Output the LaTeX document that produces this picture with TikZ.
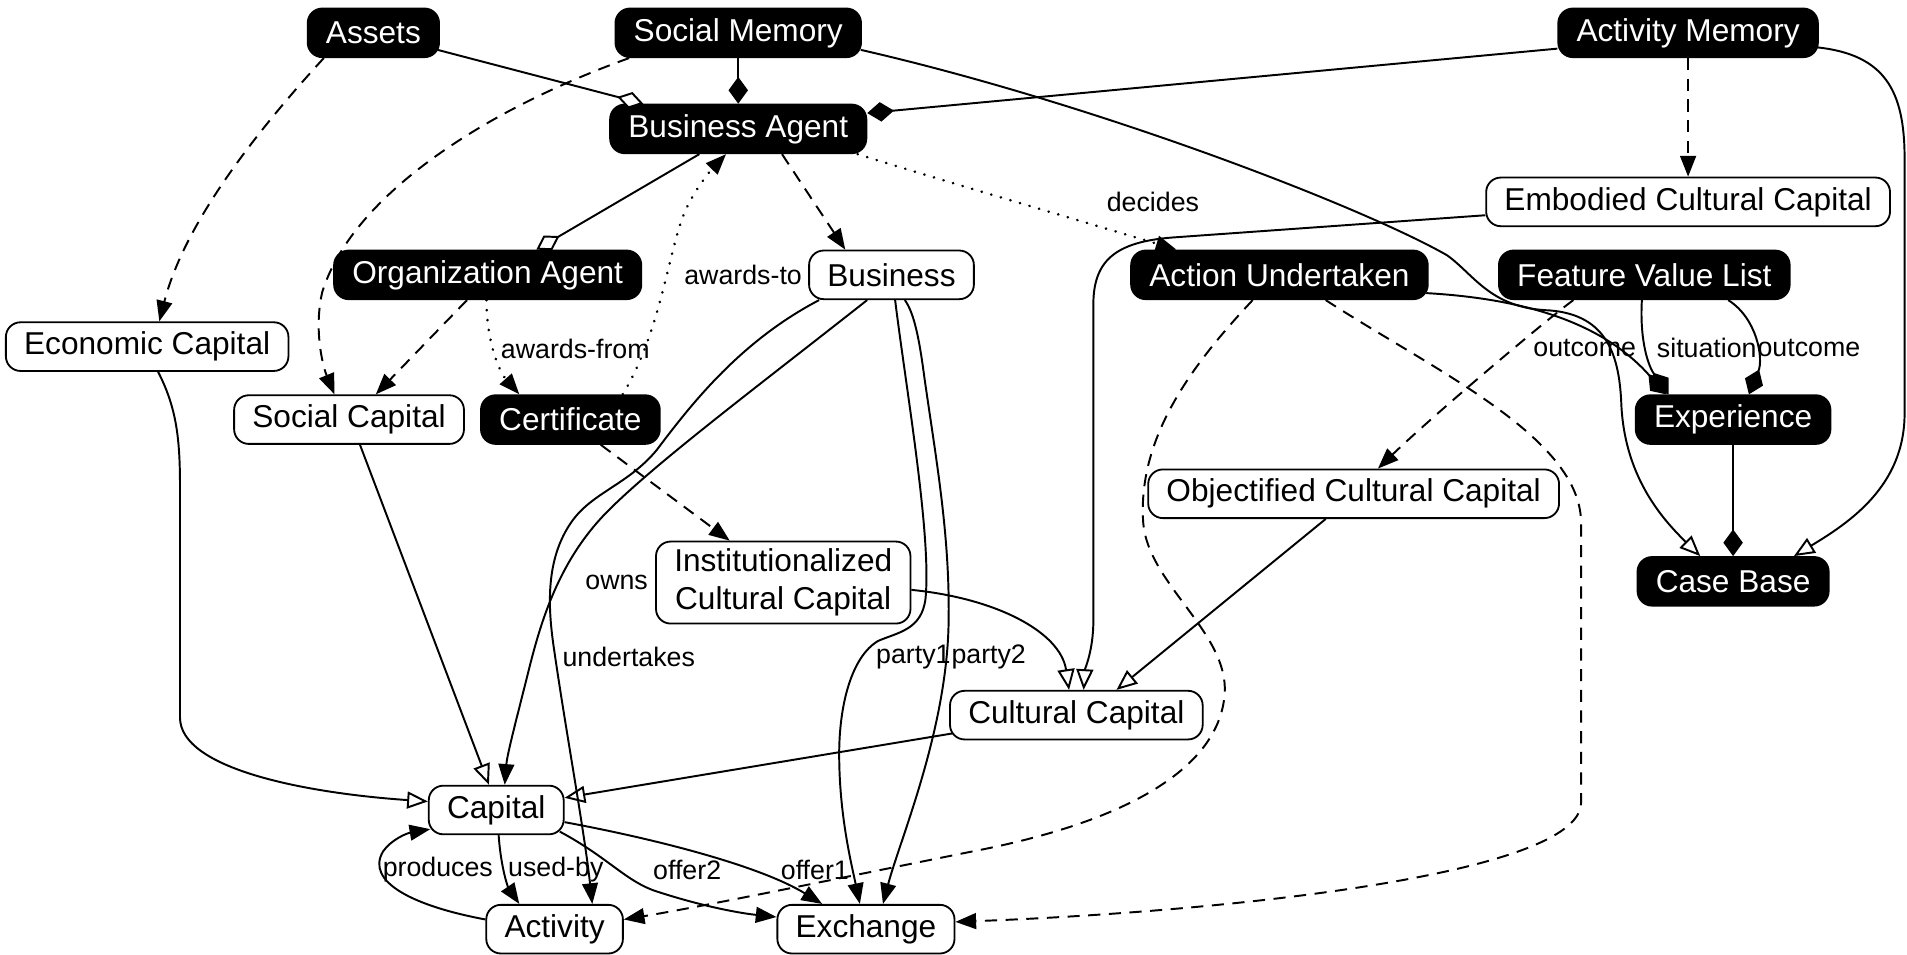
\documentclass[tikz,border=0pt]{standalone}
\usepackage{fontspec}
\setmainfont{Liberation Sans}
\usetikzlibrary{arrows.meta,calc}
\begin{document}
\begin{tikzpicture}[x=0.5pt,y=-0.5pt,
  box/.style={rounded corners=6pt, minimum height=20pt, inner xsep=7.5pt, inner ysep=3pt,
    font=\fontsize{13}{15.6}\selectfont, line width=0.75pt, align=center},
  bnode/.style={box, fill=black, draw=black, text=white},
  wnode/.style={box, fill=white, draw=black, text=black},
  conn/.style={line width=0.8pt, draw=black},
  dashline/.style={dash pattern=on 5pt off 3.5pt},
  dotline/.style={line cap=round, dash pattern=on 0.1pt off 4pt, line width=1.1pt},
  elabel/.style={font=\fontsize{11}{13}\selectfont, inner sep=0pt},
  arr/.style={-{Triangle[length=8.5pt,width=6.5pt]}},
  gen/.style={-{Triangle[open,fill=white,length=8.5pt,width=7pt]}},
  comp/.style={-{Diamond[length=11pt,width=8pt]}},
  aggr/.style={-{Diamond[open,fill=white,length=11pt,width=7pt]}},
]
\path[use as bounding box, fill=white] (0,0) rectangle (1568,785);

% nodes
\node[bnode] (assets) at (307,27) {Assets};
\node[bnode] (socmem) at (607,27) {Social Memory};
\node[bnode] (actmem) at (1388,27) {Activity Memory};
\node[bnode] (bagent) at (607,106) {Business Agent};
\node[wnode] (ecc) at (1388,166) {Embodied Cultural Capital};
\node[bnode] (orgagent) at (401,226) {Organization Agent};
\node[wnode] (business) at (733,226) {Business};
\node[bnode] (action) at (1052,226) {Action Undertaken};
\node[bnode] (fvl) at (1352,226) {Feature Value List};
\node[wnode] (econ) at (121,285) {Economic Capital};
\node[wnode] (soccap) at (287,345) {Social Capital};
\node[bnode] (cert) at (469,345) {Certificate};
\node[bnode] (exper) at (1425,345) {Experience};
\node[wnode] (occ) at (1113,406) {Objectified Cultural Capital};
\node[wnode] (icc) at (644,479) {Institutionalized\\Cultural Capital};
\node[bnode] (casebase) at (1425,478) {Case Base};
\node[wnode] (cultcap) at (885,588) {Cultural Capital};
\node[wnode] (capital) at (408,666) {Capital};
\node[wnode] (activity) at (456,764) {Activity};
\node[wnode] (exchange) at (712,764) {Exchange};

% edge labels
\node[elabel] (ldecides) at (948,166) {decides};
\node[elabel] (lawto) at (611,226) {awards-to};
\node[elabel] (lawfrom) at (473,287) {awards-from};
\node[elabel] (lowns) at (507,479) {owns};
\node[elabel] (lundert) at (517,540) {undertakes};
\node[elabel, anchor=west] (lparty1) at (720,540) {party1};
\node[elabel, anchor=west] (lparty2) at (lparty1.east) {party2};
\node[elabel] (loutc1) at (1303,286) {outcome};
\node[elabel, anchor=west] (lsitu) at (1362,286) {situation};
\node[elabel, anchor=west] (loutc2) at (lsitu.east) {outcome};
\node[elabel] (lprod) at (360,715) {produces};
\node[elabel] (lusedby) at (457,715) {used-by};
\node[elabel] (loffer2) at (565,715) {offer2};
\node[elabel] (loffer1) at (670,715) {offer1};

% edges
\draw[conn,aggr] ($(assets.east)+(-2,14)$) -- ($(bagent.north west)+(28,0)$);
\draw[conn,comp] (socmem.south) -- (bagent.north);
\draw[conn,comp] ($(actmem.west)+(0,13)$) -- ($(bagent.east)+(0,-13)$);
\draw[conn,gen] ($(socmem.east)+(-1,14)$) .. controls (900,85) and (1120,170) .. (1190,210)
  .. controls (1212,226) and (1225,252) .. (1270,255)
  .. controls (1320,257) and (1331,290) .. (1333,330)
  .. controls (1335,390) and (1365,425) .. ($(casebase.north)+(-27,0)$);
\draw[conn,gen] ($(actmem.east)+(-1,12)$) .. controls (1550,45) and (1566,75) .. (1566,130)
  -- (1566,340) .. controls (1566,400) and (1520,430) .. ($(casebase.north)+(50,0)$);
\draw[conn,dashline,arr] (actmem.south) -- (ecc.north);
\draw[conn,gen] ($(ecc.west)+(0,11)$) -- (968,195) .. controls (920,198) and (899,212) .. (899,250)
  -- (899,510) .. controls (899,535) and (892,550) .. ($(cultcap.north)+(6,0)$);
\draw[conn,gen] ($(icc.east)+(0,6)$) .. controls (820,492) and (872,520) .. ($(cultcap.north)+(-6,0)$);
\draw[conn,gen] ($(occ.south)+(-23,0)$) -- ($(cultcap.north)+(33,0)$);
\draw[conn,gen] ($(cultcap.west)+(3,15)$) -- ($(capital.east)+(0,-10)$);
\draw[conn,gen] ($(soccap.south)+(9,0)$) -- ($(capital.north)+(-6,0)$);
\draw[conn,gen] ($(econ.south)+(9,0)$) .. controls (145,335) and (148,360) .. (148,400)
  -- (148,590) .. controls (148,632) and (250,652) .. ($(capital.west)+(0,-7)$);
% owns
\draw[conn,arr] ($(business.south)+(-20,0)$) .. controls (620,320) and (540,380) .. (500,420)
  .. controls (460,460) and (445,510) .. (435,550)
  .. controls (425,590) and (417,620) .. ($(capital.north)+(7,0)$);
% undertakes
\draw[conn,arr] ($(business.south west)+(9,0)$) .. controls (610,280) and (570,330) .. (540,370)
  .. controls (515,400) and (485,405) .. (468,432)
  .. controls (450,460) and (450,495) .. (455,530)
  .. controls (465,600) and (480,680) .. ($(activity.north)+(31,0)$);
% party1
\draw[conn,arr] ($(business.south)+(3,0)$) .. controls (745,320) and (766,440) .. (761,492)
  .. controls (758,518) and (738,520) .. (722,527)
  .. controls (700,540) and (690,580) .. (690,620)
  .. controls (690,670) and (700,710) .. ($(exchange.north)+(-5,0)$);
% party2
\draw[conn,arr] ($(business.south)+(11,0)$) .. controls (752,258) and (756,280) .. (760,310)
  .. controls (770,380) and (781,440) .. (780,510)
  .. controls (779,600) and (740,690) .. ($(exchange.north)+(14,0)$);
% used-by
\draw[conn,arr] ($(capital.south)+(2,0)$) .. controls (412,715) and (418,730) .. ($(activity.north)+(-29,0)$);
% produces
\draw[conn,arr] ($(activity.west)+(0,-8)$) .. controls (340,745) and (300,725) .. (315,700)
  .. controls (322,690) and (335,685) .. ($(capital.south west)+(2,-5)$);
% offer2
\draw[conn,arr] ($(capital.south east)+(-4,-3)$) .. controls (500,705) and (515,725) .. (540,733)
  .. controls (580,746) and (610,751) .. ($(exchange.west)+(0,-10)$);
% offer1
\draw[conn,arr] ($(capital.east)+(0,10)$) .. controls (540,690) and (625,712) .. ($(exchange.north)+(-36,0)$);
% action -> activity
\draw[conn,dashline,arr] ($(action.south)+(-22,0)$) .. controls (980,300) and (935,360) .. (940,430)
  .. controls (944,480) and (1010,520) .. (1007,570)
  .. controls (1003,630) and (930,675) .. (800,700)
  .. controls (700,720) and (580,745) .. ($(activity.east)+(0,-8)$);
% action -> exchange
\draw[conn,dashline,arr] ($(action.south)+(38,0)$) .. controls (1180,305) and (1300,360) .. (1300,430)
  -- (1300,660) .. controls (1300,720) and (1000,750) .. ($(exchange.east)+(0,-6)$);
% outcome / situation / outcome
\draw[conn,comp] ($(action.east)+(-2,15)$) .. controls (1260,246) and (1320,268) .. ($(exper.north)+(-55,0)$);
\draw[conn,comp] ($(fvl.south)+(-2,0)$) .. controls (1348,282) and (1356,302) .. ($(exper.north)+(-53,0)$);
\draw[conn,comp] ($(fvl.south)+(69,0)$) .. controls (1445,262) and (1450,295) .. ($(exper.north)+(13,0)$);
\draw[conn,comp] (exper.south) -- (casebase.north);
\draw[conn,dashline,arr] ($(fvl.south west)+(62,0)$) .. controls (1275,260) and (1180,340) .. ($(occ.north)+(20,0)$);
\draw[conn,dashline,arr] ($(bagent.south)+(36,0)$) -- ($(business.north)+(-38,0)$);
% decides
\draw[conn,dotline,arr] ($(bagent.south east)+(-8,0)$) .. controls (780,150) and (900,185) .. ($(action.north west)+(38,0)$);
\draw[conn,aggr] ($(bagent.south)+(-32,0)$) -- ($(orgagent.north)+(40,0)$);
\draw[conn,dashline,arr] ($(orgagent.south)+(-17,0)$) -- ($(soccap.north)+(22,0)$);
% awards-from
\draw[conn,dotline,arr] ($(orgagent.south)+(-1,0)$) .. controls (400,280) and (410,305) .. ($(cert.north)+(-42,0)$);
% awards-to
\draw[conn,dotline,arr] ($(cert.north)+(43,0)$) .. controls (545,270) and (550,200) .. (565,170)
  .. controls (575,150) and (588,136) .. ($(bagent.south)+(-10,0)$);
\draw[conn,dashline,arr] ($(socmem.south west)+(12,0)$) .. controls (400,90) and (290,160) .. (265,240)
  .. controls (258,270) and (265,300) .. ($(soccap.north)+(-12,0)$);
\draw[conn,dashline,arr] ($(assets.south west)+(14,0)$) .. controls (200,120) and (150,190) .. ($(econ.north)+(10,0)$);
\draw[conn,dashline,arr] ($(cert.south)+(25,0)$) -- ($(icc.north)+(-44,0)$);
\end{tikzpicture}
\end{document}
